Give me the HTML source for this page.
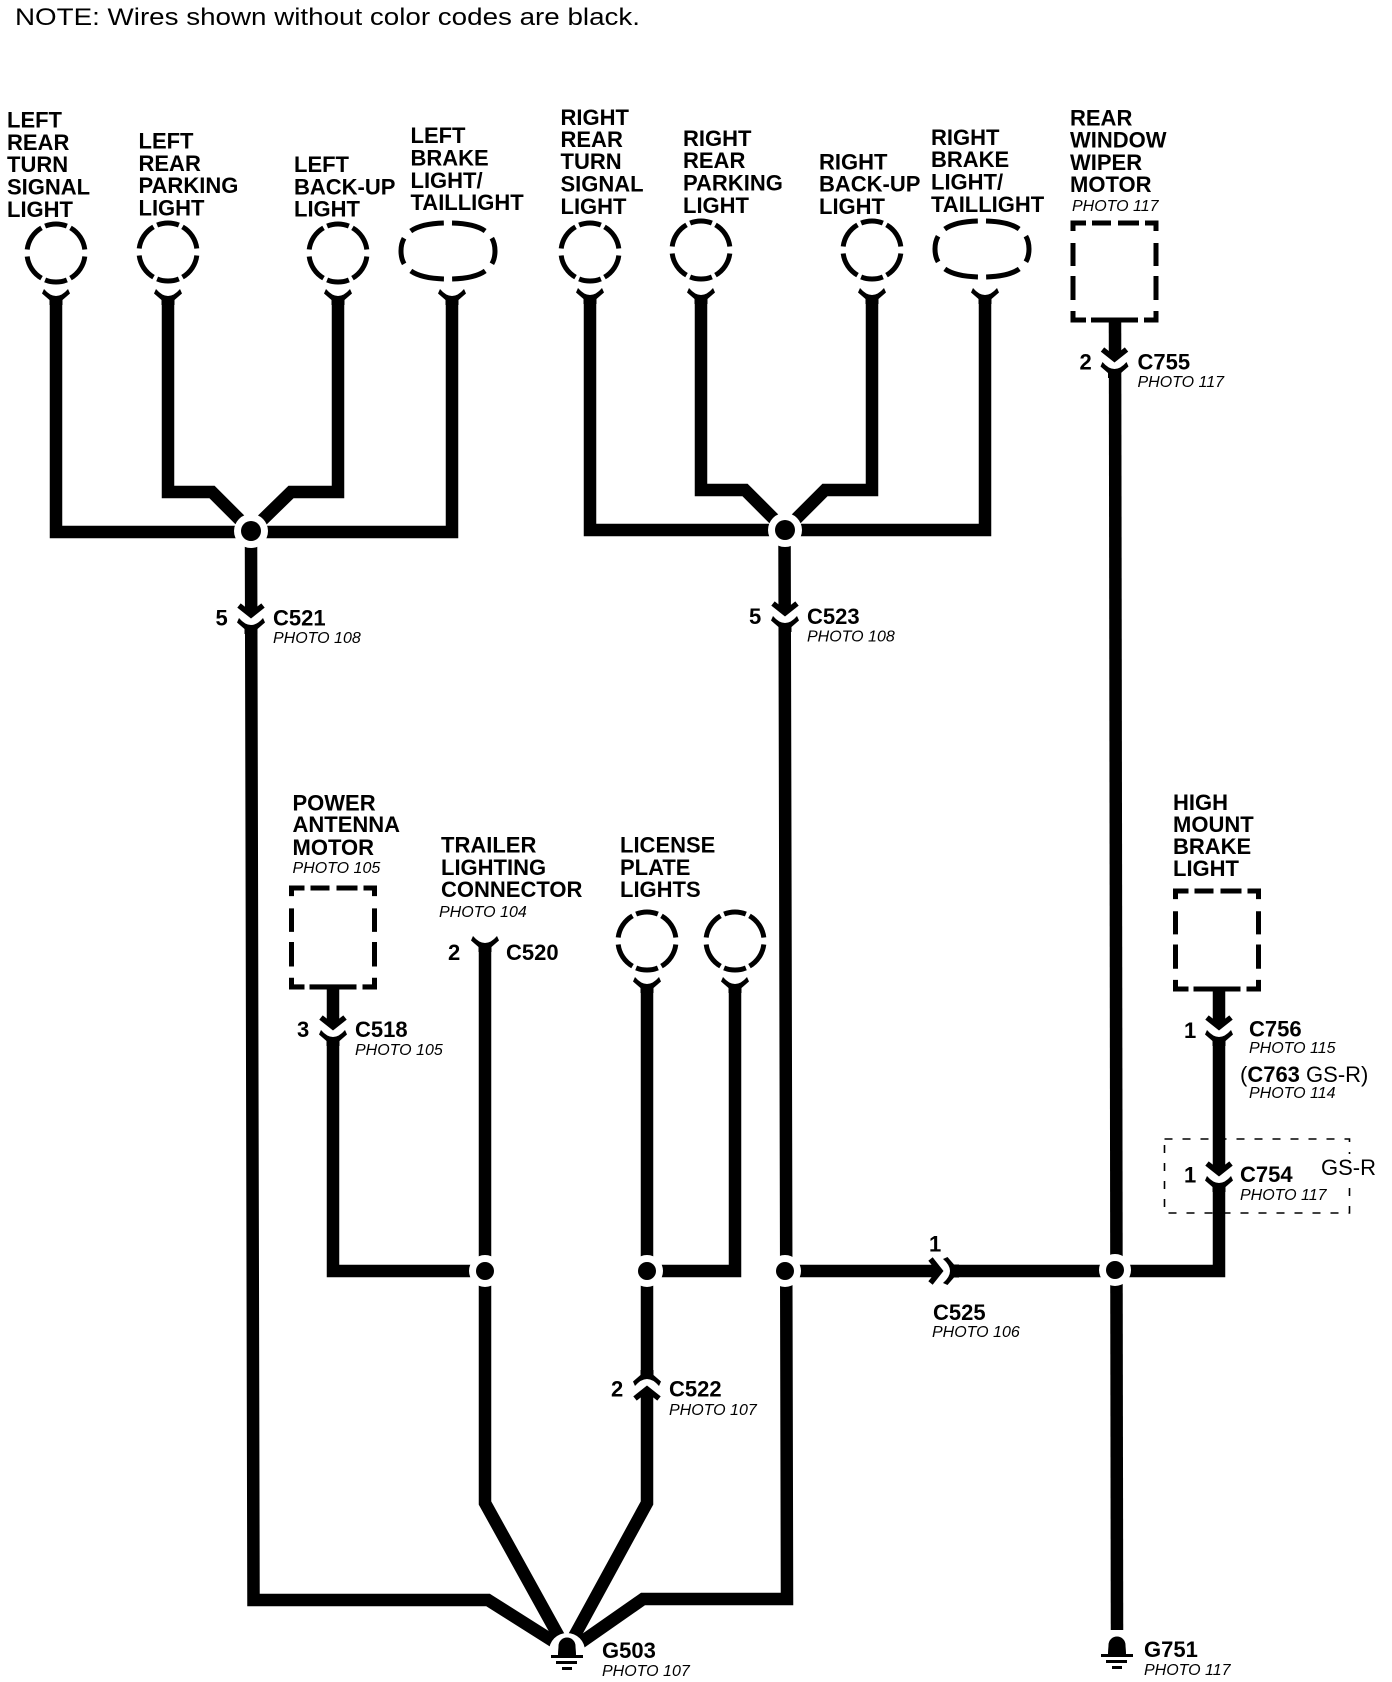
<!DOCTYPE html>
<html><head><meta charset="utf-8"><style>
html,body{margin:0;padding:0;background:#fff}
svg{display:block}
text{font-family:"Liberation Sans",Arial,sans-serif;fill:#000}
.b{font-weight:bold;font-size:22px}
.p{font-style:italic;font-size:16px}
.r{font-size:22px}
.w{fill:none;stroke:#000;stroke-width:12.5;stroke-linejoin:miter}
.d{fill:none;stroke:#000;stroke-width:5}
.c{stroke-dasharray:53 8 44 8 53 14 53 8 44 8 53 14;stroke-dashoffset:-7}
.o{stroke-dasharray:27 10 35 8 35 10 27 10 35 8 35 10;stroke-dashoffset:13.5}
</style></head><body>
<svg width="1392" height="1682" viewBox="0 0 1392 1682" xmlns="http://www.w3.org/2000/svg">
<defs>
<g id="cup"><path d="M-12,0 Q0,14 12,0 L14,4.5 L6.5,11 V16 H-6.5 V11 L-14,4.5 Z" fill="#000"/></g>
<g id="con"><rect x="-7" y="-6" width="14" height="13" fill="#fff"/><path d="M-12,-12.5 L0,-3 L12,-12.5" fill="none" stroke="#000" stroke-width="5.5"/><use href="#cup"/></g>
<g id="box"><path d="M0,8 V0 H13 M19,0 H38 M45,0 H66 M72,0 H83 V8 M0,20 V43 M0,53 V77 M83,20 V43 M83,53 V77 M0,88 V97 H13 M18,97 H65 M71,97 H83 V88" fill="none" stroke="#000" stroke-width="5"/></g>
<g id="gnd"><path d="M-9,5 C-9,1 -8.5,-2 -8.5,-4 A8.5,8.5 0 0 1 8.5,-4 C8.5,-2 9,1 9,5 Z" fill="#000"/><rect x="-16" y="5" width="32" height="3" fill="#000"/><rect x="-11" y="11" width="21" height="3" fill="#000"/><rect x="-5" y="17" width="10" height="3" fill="#000"/></g>
<path id="ov" pathLength="250" class="d o" d="M47,0 C47,20 30,28 0,28 C-30,28 -47,20 -47,0 C-47,-20 -30,-28 0,-28 C30,-28 47,-20 47,0Z"/>
</defs>

<text x="15" y="25" font-size="24" textLength="625" lengthAdjust="spacingAndGlyphs">NOTE: Wires shown without color codes are black.</text>

<!-- wires -->
<path class="w" d="M56,300 V532 H452 V300"/>
<path class="w" d="M168,300 V492 H212 L251,531"/>
<path class="w" d="M338,300 V492 H291 L251,531"/>
<path class="w" d="M251,531 L253.5,1600 H488 L556,1643"/>
<path class="w" d="M590,299 V530 H985 V299"/>
<path class="w" d="M701,299 V490 H745 L785,530"/>
<path class="w" d="M872,299 V490 H825 L785,530"/>
<path class="w" d="M784.5,530 L787,1599 H643 L580,1643"/>
<path class="w" d="M1115,322 L1117,1630"/>
<path class="w" d="M333,989 V1271 H485"/>
<path class="w" d="M485,947 V1503 L563,1644"/>
<path class="w" d="M647,988 V1503 L570,1644"/>
<path class="w" d="M735,988 V1271 H647"/>
<path class="w" d="M785,1271 H1219 V991"/>

<!-- junctions -->
<circle cx="251" cy="531" r="17" fill="#fff"/><circle cx="251" cy="531" r="10" fill="#000"/>
<circle cx="785" cy="530" r="17" fill="#fff"/><circle cx="785" cy="530" r="10" fill="#000"/>
<circle cx="485" cy="1271" r="16" fill="#fff"/><circle cx="485" cy="1271" r="9" fill="#000"/>
<circle cx="647" cy="1271" r="16" fill="#fff"/><circle cx="647" cy="1271" r="9" fill="#000"/>
<circle cx="785" cy="1271" r="16" fill="#fff"/><circle cx="785" cy="1271" r="9" fill="#000"/>
<circle cx="1115" cy="1270" r="16" fill="#fff"/><circle cx="1115" cy="1270" r="9" fill="#000"/>

<!-- lights -->
<circle class="d c" pathLength="360" cx="56" cy="253" r="29"/>
<circle class="d c" pathLength="360" cx="168" cy="252" r="29"/>
<circle class="d c" pathLength="360" cx="338" cy="253" r="29"/>
<use href="#ov" x="448" y="251"/>
<circle class="d c" pathLength="360" cx="590" cy="252" r="29"/>
<circle class="d c" pathLength="360" cx="701" cy="250" r="29"/>
<circle class="d c" pathLength="360" cx="872" cy="250" r="29"/>
<use href="#ov" x="982" y="249"/>
<circle class="d c" pathLength="360" cx="647" cy="941" r="29"/>
<circle class="d c" pathLength="360" cx="735" cy="941" r="29"/>

<!-- boxes -->
<use href="#box" x="1073" y="223"/>
<use href="#box" transform="translate(291.5,888) scale(1,1.02)"/>
<use href="#box" transform="translate(1175.5,891) scale(1,1.01)"/>
<rect x="1164.5" y="1139" width="185" height="74" fill="none" stroke="#000" stroke-width="1.6" stroke-dasharray="8 10"/>

<!-- cups -->
<use href="#cup" x="56" y="289"/><use href="#cup" x="168" y="289"/><use href="#cup" x="338" y="289"/><use href="#cup" x="452" y="289"/>
<use href="#cup" x="590" y="288"/><use href="#cup" x="701" y="288"/><use href="#cup" x="872" y="288"/><use href="#cup" x="985" y="288"/>
<use href="#cup" x="485" y="936"/><use href="#cup" x="647" y="977"/><use href="#cup" x="735" y="977"/>

<!-- connectors -->
<use href="#con" x="251" y="618"/>
<use href="#con" x="785" y="616"/>
<use href="#con" x="1114.5" y="362"/>
<use href="#con" x="333" y="1030"/>
<use href="#con" x="1219" y="1030"/>
<use href="#con" x="1219" y="1176"/>
<use href="#con" transform="translate(647,1386) rotate(180)"/>
<use href="#con" transform="translate(943,1271) rotate(-90)"/>

<!-- grounds -->
<circle cx="567" cy="1651" r="18" fill="#fff"/>
<use href="#gnd" x="567" y="1650"/>
<use href="#gnd" x="1117" y="1649"/>

<!-- labels -->
<text class="b"><tspan x="7" y="127.5">LEFT</tspan><tspan x="7" y="150">REAR</tspan><tspan x="7" y="172">TURN</tspan><tspan x="7" y="194.5">SIGNAL</tspan><tspan x="7" y="217">LIGHT</tspan></text>
<text class="b"><tspan x="138.5" y="148.5">LEFT</tspan><tspan x="138.5" y="171">REAR</tspan><tspan x="138.5" y="193">PARKING</tspan><tspan x="138.5" y="215.5">LIGHT</tspan></text>
<text class="b"><tspan x="294" y="172">LEFT</tspan><tspan x="294" y="194.5">BACK-UP</tspan><tspan x="294" y="216.5">LIGHT</tspan></text>
<text class="b"><tspan x="410.5" y="143">LEFT</tspan><tspan x="410.5" y="165.5">BRAKE</tspan><tspan x="410.5" y="188">LIGHT/</tspan><tspan x="410.5" y="210">TAILLIGHT</tspan></text>
<text class="b"><tspan x="560.5" y="125">RIGHT</tspan><tspan x="560.5" y="147">REAR</tspan><tspan x="560.5" y="169">TURN</tspan><tspan x="560.5" y="191.5">SIGNAL</tspan><tspan x="560.5" y="214">LIGHT</tspan></text>
<text class="b"><tspan x="683" y="146">RIGHT</tspan><tspan x="683" y="168">REAR</tspan><tspan x="683" y="190.5">PARKING</tspan><tspan x="683" y="213">LIGHT</tspan></text>
<text class="b"><tspan x="819" y="169.5">RIGHT</tspan><tspan x="819" y="191.5">BACK-UP</tspan><tspan x="819" y="214">LIGHT</tspan></text>
<text class="b"><tspan x="931" y="145">RIGHT</tspan><tspan x="931" y="167">BRAKE</tspan><tspan x="931" y="189.5">LIGHT/</tspan><tspan x="931" y="212">TAILLIGHT</tspan></text>
<text class="b"><tspan x="1070" y="125.5">REAR</tspan><tspan x="1070" y="147.5">WINDOW</tspan><tspan x="1070" y="170">WIPER</tspan><tspan x="1070" y="192">MOTOR</tspan></text>
<text class="p" x="1072" y="211">PHOTO 117</text>

<text class="b" x="215.5" y="625.5">5</text><text class="b" x="273" y="625.5">C521</text><text class="p" x="273" y="643">PHOTO 108</text>
<text class="b" x="749" y="624">5</text><text class="b" x="807" y="624">C523</text><text class="p" x="807" y="641.5">PHOTO 108</text>
<text class="b" x="1079.5" y="369.5">2</text><text class="b" x="1137.5" y="369.5">C755</text><text class="p" x="1137.5" y="387">PHOTO 117</text>

<text class="b"><tspan x="292.5" y="810.5">POWER</tspan><tspan x="292.5" y="832">ANTENNA</tspan><tspan x="292.5" y="855">MOTOR</tspan></text>
<text class="p" x="292.5" y="873">PHOTO 105</text>
<text class="b"><tspan x="441" y="852.5">TRAILER</tspan><tspan x="441" y="875">LIGHTING</tspan><tspan x="441" y="897">CONNECTOR</tspan></text>
<text class="p" x="439" y="917">PHOTO 104</text>
<text class="b"><tspan x="620" y="852.5">LICENSE</tspan><tspan x="620" y="875">PLATE</tspan><tspan x="620" y="897">LIGHTS</tspan></text>
<text class="b" x="448" y="960">2</text><text class="b" x="506" y="960">C520</text>
<text class="b" x="297" y="1037">3</text><text class="b" x="355" y="1037">C518</text><text class="p" x="355" y="1055">PHOTO 105</text>

<text class="b"><tspan x="1173" y="810">HIGH</tspan><tspan x="1173" y="832">MOUNT</tspan><tspan x="1173" y="854">BRAKE</tspan><tspan x="1173" y="876">LIGHT</tspan></text>
<text class="b" x="1184" y="1038">1</text><text class="b" x="1249" y="1036.5">C756</text><text class="p" x="1249" y="1053">PHOTO 115</text>
<text x="1240" y="1082" class="r">(<tspan font-weight="bold">C763</tspan> GS-R)</text>
<text class="p" x="1249" y="1098">PHOTO 114</text>
<text class="b" x="1184" y="1182.5">1</text><text class="b" x="1240" y="1182">C754</text><text class="p" x="1240" y="1200">PHOTO 117</text>
<rect x="1335" y="1154" width="30" height="30" fill="#fff"/>
<text class="r" x="1321" y="1175">GS-R</text>
<text class="b" x="929" y="1251.5">1</text><text class="b" x="933" y="1320">C525</text><text class="p" x="932" y="1337">PHOTO 106</text>
<text class="b" x="611" y="1396.5">2</text><text class="b" x="669" y="1396.5">C522</text><text class="p" x="669" y="1415">PHOTO 107</text>
<text class="b" x="602" y="1658">G503</text><text class="p" x="602" y="1676">PHOTO 107</text>
<text class="b" x="1144" y="1657">G751</text><text class="p" x="1144" y="1675">PHOTO 117</text>
</svg>
</body></html>
